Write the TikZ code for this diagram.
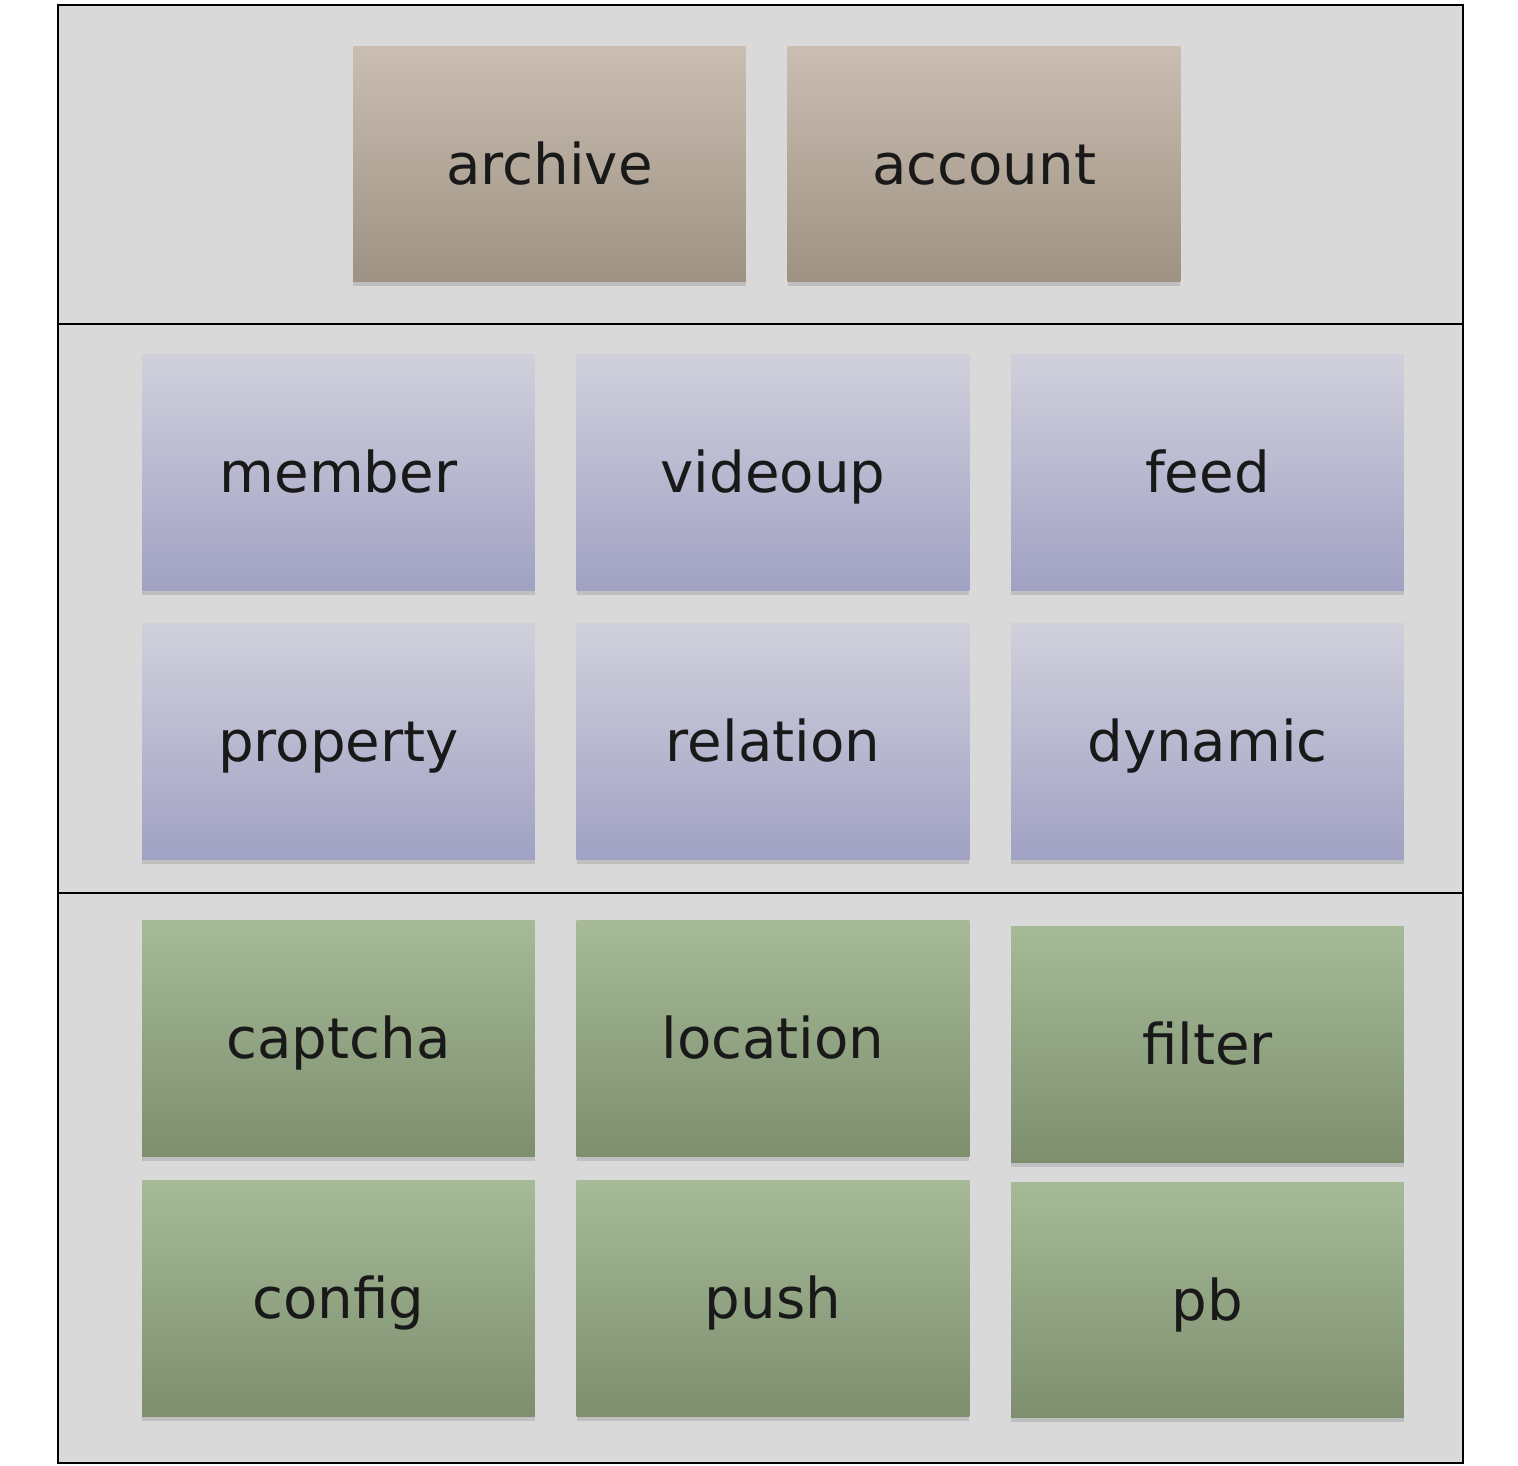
\documentclass[tikz,border=0pt]{standalone}
\usepackage{fontspec}
\setmainfont{DejaVu Sans}
\usepackage{tikz}
\usetikzlibrary{shapes}
\usetikzlibrary{shadows}
\definecolor{panelgray}{RGB}{217,217,217}
\definecolor{tantop}{RGB}{202,190,178}
\definecolor{tanbot}{RGB}{158,146,132}
\definecolor{lilactop}{RGB}{208,208,220}
\definecolor{lilacbot}{RGB}{161,161,196}
\definecolor{greentop}{RGB}{166,186,152}
\definecolor{greenbot}{RGB}{125,143,110}
\tikzstyle{module} = [rectangle, minimum width=7.86cm, minimum height=4.72cm, text centered, draw=none,
font=\fontsize{32}{38}\selectfont, text=black!90, text height=22.8pt, text depth=0pt,
drop shadow={shadow xshift=0pt, shadow yshift=-2.5pt, fill=black!25, opacity=1}]
\tikzstyle{app} = [module, top color=tantop, bottom color=tanbot]
\tikzstyle{service} = [module, top color=lilactop, bottom color=lilacbot]
\tikzstyle{infra} = [module, top color=greentop, bottom color=greenbot]
\tikzstyle{layer} = [fill=panelgray, draw=black, line width=1.6pt]
\begin{document}
\begin{tikzpicture}[x=0.02cm, y=-0.02cm]
  \useasboundingbox (0,0) rectangle (1518,1466);
  \fill[white] (0,0) rectangle (1518,1466);
  % three layers
  \draw[layer] (58,5) rectangle (1463,1463);
  \draw[line width=1.6pt] (58,324) -- (1463,324);
  \draw[line width=1.6pt] (58,893) -- (1463,893);

  \node(archive)[app] at (549.5,164) {archive};
  \node(account)[app] at (984,164) {account};

  \node(member)[service] at (338.5,472.5) {member};
  \node(videoup)[service] at (773,472.5) {videoup};
  \node(feed)[service] at (1207.5,472.5) {feed};
  \node(property)[service] at (338.5,741.5) {property};
  \node(relation)[service] at (773,741.5) {relation};
  \node(dynamic)[service] at (1207.5,741.5) {dynamic};

  \node(captcha)[infra] at (338.5,1038.5) {captcha};
  \node(location)[infra] at (773,1038.5) {location};
  \node(filter)[infra] at (1207.5,1044.5) {filter};
  \node(config)[infra] at (338.5,1298.5) {config};
  \node(push)[infra] at (773,1298.5) {push};
  \node(pb)[infra] at (1207.5,1300) {pb};

\end{tikzpicture}
\end{document}
